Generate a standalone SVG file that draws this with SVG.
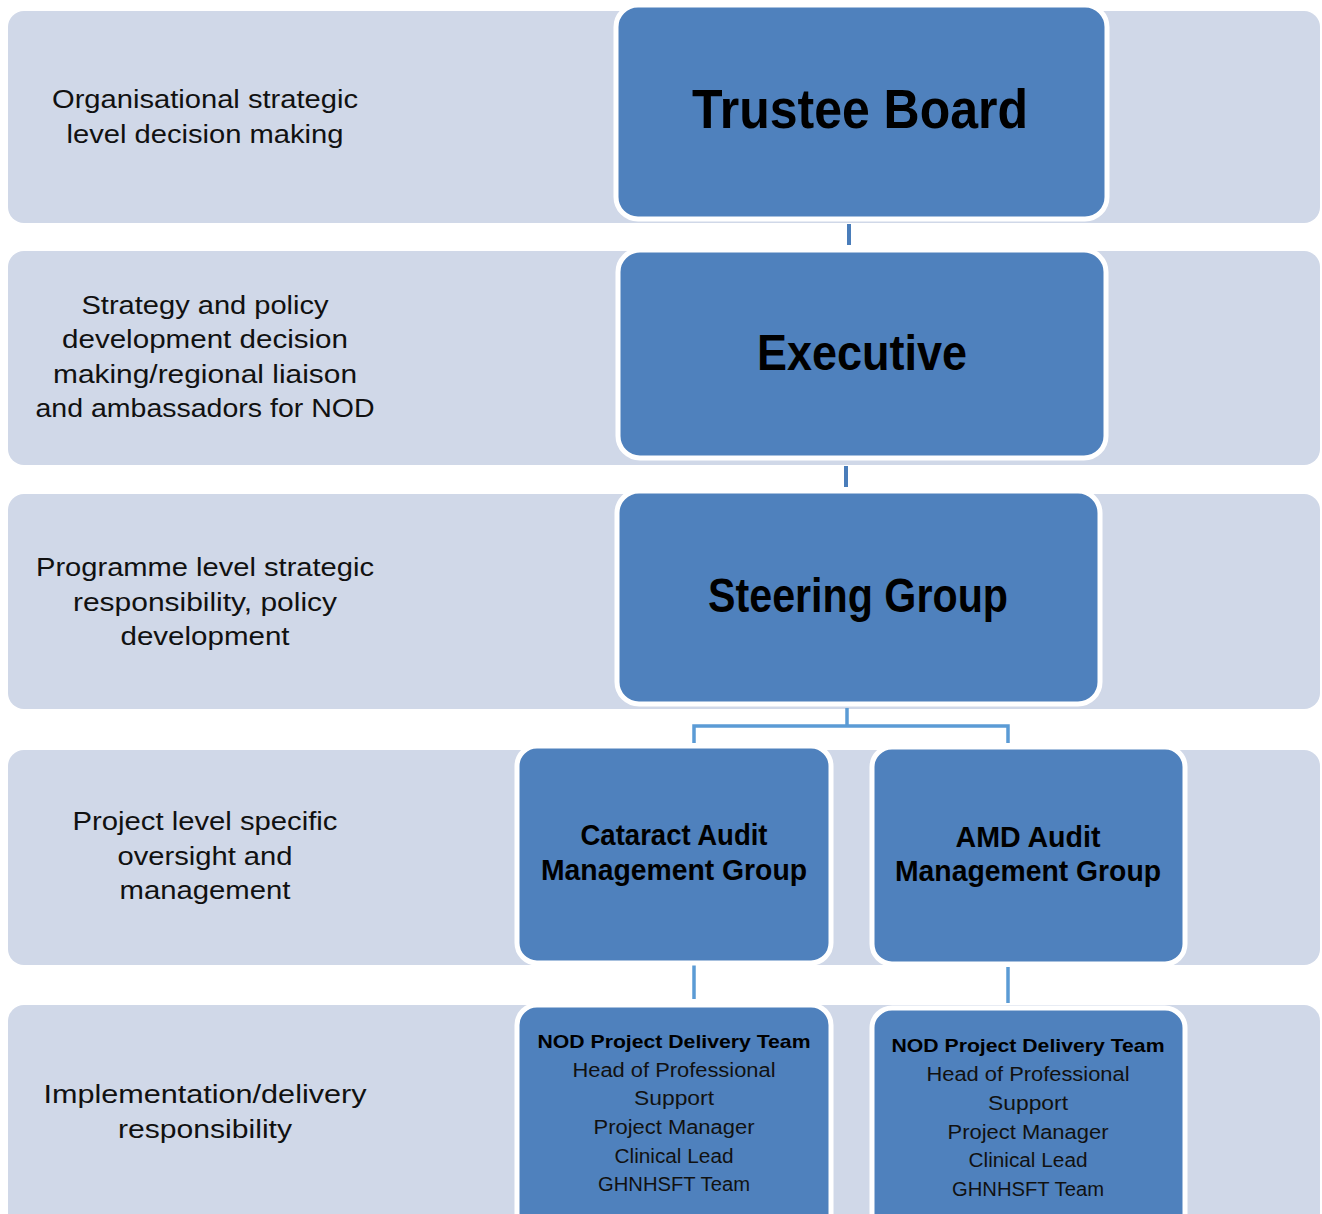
<svg xmlns="http://www.w3.org/2000/svg" width="1322" height="1214" viewBox="0 0 1322 1214">
  <style>
    .band { fill: #D0D8E8; }
    .box { fill: #4F81BD; stroke: #FFFFFF; stroke-width: 5; }
    .lbl { font-family: "Liberation Sans", Arial, sans-serif; font-size: 25px; fill: #111111; text-anchor: middle; }
    .title { font-family: "Liberation Sans", Arial, sans-serif; font-weight: bold; fill: #000000; text-anchor: middle; }
    .t1 { font-size: 56px; }
    .t2 { font-size: 50px; }
    .t3 { font-size: 48px; }
    .t4 { font-size: 29px; }
    .tm { font-size: 19px; }
    .member { font-family: "Liberation Sans", Arial, sans-serif; font-size: 20px; fill: #111111; text-anchor: middle; }
    .conn-main { stroke: #4A7DBA; stroke-width: 4; fill: none; }
    .conn { stroke: #5B9BD5; stroke-width: 3.5; fill: none; }
  </style>

  <!-- level bands -->
  <g id="bands">
    <rect class="band" x="8" y="11" width="1312" height="212" rx="16"/>
    <rect class="band" x="8" y="251" width="1312" height="214" rx="16"/>
    <rect class="band" x="8" y="494" width="1312" height="215" rx="16"/>
    <rect class="band" x="8" y="750" width="1312" height="215" rx="16"/>
    <rect class="band" x="8" y="1005" width="1312" height="240" rx="16"/>
  </g>

  <!-- level descriptions -->
  <g id="level-labels">
    <text class="lbl" x="205" y="108" textLength="306" lengthAdjust="spacingAndGlyphs">Organisational strategic</text>
    <text class="lbl" x="205" y="143" textLength="277" lengthAdjust="spacingAndGlyphs">level decision making</text>

    <text class="lbl" x="205" y="314" textLength="247" lengthAdjust="spacingAndGlyphs">Strategy and policy</text>
    <text class="lbl" x="205" y="348" textLength="286" lengthAdjust="spacingAndGlyphs">development decision</text>
    <text class="lbl" x="205" y="383" textLength="304" lengthAdjust="spacingAndGlyphs">making/regional liaison</text>
    <text class="lbl" x="205" y="417" textLength="339" lengthAdjust="spacingAndGlyphs">and ambassadors for NOD</text>

    <text class="lbl" x="205" y="576" textLength="338" lengthAdjust="spacingAndGlyphs">Programme level strategic</text>
    <text class="lbl" x="205" y="611" textLength="264" lengthAdjust="spacingAndGlyphs">responsibility, policy</text>
    <text class="lbl" x="205" y="645" textLength="169" lengthAdjust="spacingAndGlyphs">development</text>

    <text class="lbl" x="205" y="830" textLength="265" lengthAdjust="spacingAndGlyphs">Project level specific</text>
    <text class="lbl" x="205" y="865" textLength="175" lengthAdjust="spacingAndGlyphs">oversight and</text>
    <text class="lbl" x="205" y="899" textLength="171" lengthAdjust="spacingAndGlyphs">management</text>

    <text class="lbl" x="205" y="1103" textLength="323" lengthAdjust="spacingAndGlyphs">Implementation/delivery</text>
    <text class="lbl" x="205" y="1138" textLength="174" lengthAdjust="spacingAndGlyphs">responsibility</text>
  </g>

  <!-- connectors -->
  <g id="connectors">
    <line class="conn-main" x1="849" y1="224" x2="849" y2="245"/>
    <line class="conn-main" x1="846" y1="466" x2="846" y2="487"/>
    <line class="conn" x1="847" y1="708" x2="847" y2="726" stroke-width="5.5"/>
    <path class="conn" d="M694 743 V726 H1008 V743"/>
    <line class="conn" x1="694" y1="965" x2="694" y2="999"/>
    <line class="conn" x1="1008" y1="967" x2="1008" y2="1003"/>
  </g>

  <g id="trustee-board">
    <rect class="box" x="616" y="5" width="491" height="214" rx="22"/>
    <text class="title t1" x="860" y="128" textLength="336" lengthAdjust="spacingAndGlyphs">Trustee Board</text>
  </g>

  <g id="executive">
    <rect class="box" x="618" y="250" width="488" height="208" rx="22"/>
    <text class="title t2" x="862" y="370" textLength="210" lengthAdjust="spacingAndGlyphs">Executive</text>
  </g>

  <g id="steering-group">
    <rect class="box" x="617" y="491" width="483" height="213" rx="22"/>
    <text class="title t3" x="858" y="612" textLength="300" lengthAdjust="spacingAndGlyphs">Steering Group</text>
  </g>

  <g id="cataract-audit">
    <rect class="box" x="517" y="746" width="314" height="217" rx="20"/>
    <text class="title t4" x="674" y="845" textLength="187" lengthAdjust="spacingAndGlyphs">Cataract Audit</text>
    <text class="title t4" x="674" y="880" textLength="266" lengthAdjust="spacingAndGlyphs">Management Group</text>
  </g>

  <g id="amd-audit">
    <rect class="box" x="872" y="747" width="313" height="217" rx="20"/>
    <text class="title t4" x="1028" y="847" textLength="145" lengthAdjust="spacingAndGlyphs">AMD Audit</text>
    <text class="title t4" x="1028" y="881" textLength="266" lengthAdjust="spacingAndGlyphs">Management Group</text>
  </g>

  <g id="cataract-delivery-team">
    <rect class="box" x="517" y="1005" width="314" height="240" rx="20"/>
    <text class="title tm" x="674" y="1048" textLength="273" lengthAdjust="spacingAndGlyphs">NOD Project Delivery Team</text>
    <text class="member" x="674" y="1077" textLength="203" lengthAdjust="spacingAndGlyphs">Head of Professional</text>
    <text class="member" x="674" y="1105" textLength="80" lengthAdjust="spacingAndGlyphs">Support</text>
    <text class="member" x="674" y="1134" textLength="161" lengthAdjust="spacingAndGlyphs">Project Manager</text>
    <text class="member" x="674" y="1163" textLength="119" lengthAdjust="spacingAndGlyphs">Clinical Lead</text>
    <text class="member" x="674" y="1191" textLength="152" lengthAdjust="spacingAndGlyphs">GHNHSFT Team</text>
  </g>

  <g id="amd-delivery-team">
    <rect class="box" x="872" y="1008" width="313" height="240" rx="20"/>
    <text class="title tm" x="1028" y="1052" textLength="273" lengthAdjust="spacingAndGlyphs">NOD Project Delivery Team</text>
    <text class="member" x="1028" y="1081" textLength="203" lengthAdjust="spacingAndGlyphs">Head of Professional</text>
    <text class="member" x="1028" y="1110" textLength="80" lengthAdjust="spacingAndGlyphs">Support</text>
    <text class="member" x="1028" y="1139" textLength="161" lengthAdjust="spacingAndGlyphs">Project Manager</text>
    <text class="member" x="1028" y="1167" textLength="119" lengthAdjust="spacingAndGlyphs">Clinical Lead</text>
    <text class="member" x="1028" y="1196" textLength="152" lengthAdjust="spacingAndGlyphs">GHNHSFT Team</text>
  </g>
</svg>
